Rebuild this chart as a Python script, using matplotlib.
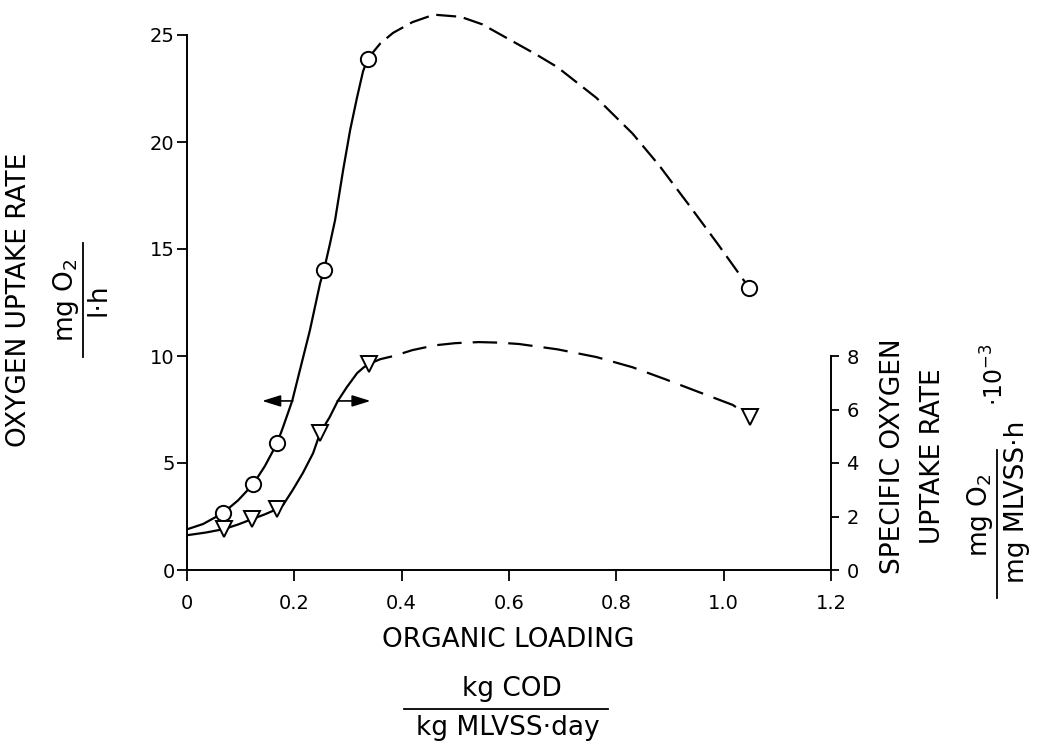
import matplotlib
matplotlib.use("Agg")
import matplotlib.pyplot as plt
from matplotlib.lines import Line2D

# ---- data ----
# Oxygen uptake rate (left axis, mg O2 / l.h)
our_x = [0.067, 0.123, 0.168, 0.255, 0.337, 1.047]
our_y = [2.66, 4.0, 5.93, 14.0, 23.9, 13.2]
# Specific oxygen uptake rate (right axis, mg O2/mg MLVSS.h x 1e-3)
sour_x = [0.069, 0.121, 0.168, 0.248, 0.339, 1.05]
sour_y = [1.53, 1.9, 2.28, 5.12, 7.7, 5.72]

# traced fitted curves (solid part / dashed part)
our_solid_x = [0.0, 0.03, 0.067, 0.095, 0.123, 0.145, 0.168, 0.179, 0.196, 0.212, 0.229,
               0.248, 0.255, 0.266, 0.276, 0.291, 0.304, 0.317, 0.328, 0.337]
our_solid_y = [1.9, 2.15, 2.66, 3.25, 4.0, 4.85, 5.93, 6.68, 7.9, 9.5, 11.2,
               13.4, 14.0, 15.2, 16.36, 18.7, 20.56, 22.1, 23.3, 23.9]
our_dash_x = [0.337, 0.36, 0.384, 0.42, 0.46, 0.51, 0.55, 0.60, 0.65, 0.69, 0.763, 0.83,
              0.88, 0.937, 0.99, 1.047]
our_dash_y = [23.9, 24.6, 25.1, 25.6, 25.95, 25.85, 25.5, 24.8, 24.1, 23.5, 22.06, 20.4,
              18.9, 17.0, 15.2, 13.2]

sour_solid_x = [0.0, 0.035, 0.069, 0.095, 0.121, 0.145, 0.168, 0.179, 0.197, 0.216, 0.235,
                0.248, 0.266, 0.281, 0.298, 0.317, 0.329, 0.339]
sour_solid_y = [1.3, 1.4, 1.53, 1.7, 1.9, 2.08, 2.28, 2.43, 2.99, 3.63, 4.37,
                5.12, 5.72, 6.32, 6.84, 7.36, 7.57, 7.7]
sour_dash_x = [0.339, 0.36, 0.385, 0.42, 0.462, 0.50, 0.544, 0.58, 0.618, 0.69, 0.763, 0.83,
               0.89, 0.95, 1.017, 1.05]
sour_dash_y = [7.7, 7.88, 8.0, 8.22, 8.4, 8.48, 8.52, 8.5, 8.45, 8.25, 7.96, 7.58,
               7.14, 6.68, 6.17, 5.72]

x_ticks = [0, 0.2, 0.4, 0.6, 0.8, 1.0, 1.2]
x_ticklabels = ["0", "0.2", "0.4", "0.6", "0.8", "1.0", "1.2"]
left_ticks = [0, 5, 10, 15, 20, 25]
right_ticks = [0, 2, 4, 6, 8]

W, H = 1042, 745
fig = plt.figure(figsize=(W / 100, H / 100), dpi=100)
x0, x1, y0, y1 = 187, 831, 570, 35
ax = fig.add_axes([x0 / W, 1 - y0 / H, (x1 - x0) / W, (y0 - y1) / H])
ax2 = ax.twinx()

labfont = ["DejaVu Sans"]
lw = 1.6

ax.set_xlim(0, 1.2)
ax.set_ylim(0, 25)
ax2.set_ylim(0, 20)  # 8 on the right aligns with 10 on the left

for a in (ax, ax2):
    a.spines["top"].set_visible(False)
    a.patch.set_visible(False)
ax.spines["right"].set_visible(False)
ax2.spines["left"].set_visible(False)
ax2.spines["bottom"].set_visible(False)
ax2.spines["right"].set_bounds(0, 8)
for s in ("left", "bottom"):
    ax.spines[s].set_linewidth(1.4)
ax2.spines["right"].set_linewidth(1.4)

ax.set_xticks(x_ticks)
ax.set_xticklabels(x_ticklabels)
ax.set_yticks(left_ticks)
ax.set_yticklabels([str(t) for t in left_ticks])
ax2.set_yticks(right_ticks)
ax2.set_yticklabels([str(t) for t in right_ticks])
ax.tick_params(axis="x", direction="out", length=8, width=1.3, pad=9, labelsize=14,
               colors="black")
ax.tick_params(axis="y", direction="out", length=7, width=1.3, pad=2, labelsize=14,
               colors="black")
ax2.tick_params(axis="y", direction="out", length=6, width=1.3, pad=5, labelsize=14,
                colors="black")

# curves
ax.plot(our_solid_x, our_solid_y, color="black", lw=lw, solid_joinstyle="round", zorder=2)
ax.plot(our_dash_x, our_dash_y, color="black", lw=lw, dashes=(9, 3.5), clip_on=False, zorder=2)
ax2.plot(sour_solid_x, sour_solid_y, color="black", lw=lw, solid_joinstyle="round", zorder=2)
ax2.plot(sour_dash_x, sour_dash_y, color="black", lw=lw, dashes=(11, 5), clip_on=False, zorder=2)

# markers
ax.plot(our_x, our_y, linestyle="none", marker="o", markersize=11, markerfacecolor="white",
        markeredgecolor="black", markeredgewidth=1.4, clip_on=False, zorder=3)
ax2.plot(sour_x, sour_y, linestyle="none", marker="v", markersize=11, markerfacecolor="white",
         markeredgecolor="black", markeredgewidth=1.4, clip_on=False, zorder=3)

# axis-indicator arrows
arr = dict(arrowstyle="-|>,head_length=0.8,head_width=0.25", color="black", lw=1.2,
           mutation_scale=14, shrinkA=0, shrinkB=0)
ax.annotate("", xy=(0.140, 7.9), xytext=(0.197, 7.9), arrowprops=arr)
ax.annotate("", xy=(0.342, 7.9), xytext=(0.28, 7.9), arrowprops=arr)

# ---- labels ----
def fx(px):
    return px / W

def fy(py):
    return 1 - py / H

fs = 19
# left
fig.text(fx(19), fy(300), "OXYGEN UPTAKE RATE", rotation=90, ha="center", va="center",
         fontsize=fs, family=labfont)
fig.text(fx(66), fy(300), "mg O$_2$", rotation=90, ha="center", va="center",
         fontsize=fs, family=labfont)
fig.add_artist(Line2D([fx(83), fx(83)], [fy(243), fy(357)], color="black", lw=1.3))
fig.text(fx(98), fy(300), "l·h", rotation=90, ha="center", va="center",
         fontsize=fs, family=labfont)
# right
fig.text(fx(893), fy(456), "SPECIFIC OXYGEN", rotation=90, ha="center", va="center",
         fontsize=fs, family=labfont)
fig.text(fx(933), fy(456), "UPTAKE RATE", rotation=90, ha="center", va="center",
         fontsize=fs, family=labfont)
fig.text(fx(980), fy(515), "mg O$_2$", rotation=90, ha="center", va="center",
         fontsize=fs, family=labfont)
fig.add_artist(Line2D([fx(997), fx(997)], [fy(450), fy(598)], color="black", lw=1.3))
fig.text(fx(1017), fy(502), "mg MLVSS·h", rotation=90, ha="center", va="center",
         fontsize=fs, family=labfont)
fig.text(fx(995), fy(375), "·10$^{-3}$", rotation=90, ha="center", va="center",
         fontsize=fs - 2, family=labfont)
# bottom
fig.text(fx(508), fy(640), "ORGANIC LOADING", ha="center", va="center",
         fontsize=fs, family=labfont)
fig.text(fx(512), fy(689), "kg COD", ha="center", va="center", fontsize=fs, family=labfont)
fig.add_artist(Line2D([fx(404), fx(608)], [fy(709), fy(709)], color="black", lw=1.3))
fig.text(fx(508), fy(728), "kg MLVSS·day", ha="center", va="center", fontsize=fs,
         family=labfont)

fig.savefig("out.png", dpi=100, facecolor="white")
